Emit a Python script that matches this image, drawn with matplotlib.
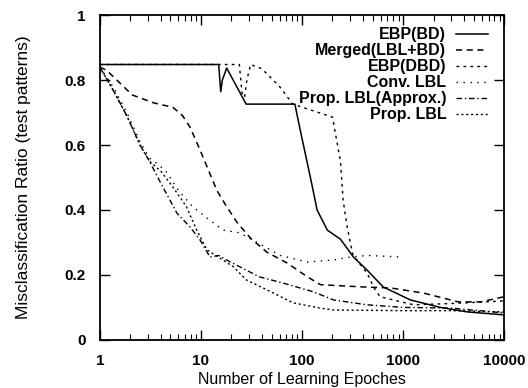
import numpy as np
import matplotlib
matplotlib.use("Agg")
from matplotlib import pyplot as plt

plt.rcParams['font.family'] = ['Liberation Sans', 'DejaVu Sans']

# values (epochs, misclassification ratio)
ebp_bd_x = [1, 15, 15.7, 16.3, 18, 28, 85, 96, 123, 141, 178, 240, 323, 440, 635, 1180, 2340, 4350, 10000]
ebp_bd_y = [0.848, 0.848, 0.764, 0.80, 0.837, 0.726, 0.726, 0.646, 0.49, 0.40, 0.338, 0.31, 0.255, 0.215, 0.163, 0.123, 0.10, 0.086, 0.077]

merged_x = [1, 1.17, 2.1, 3.4, 5.3, 6.6, 7.8, 9.8, 14.4, 18, 23, 31, 45, 71, 112, 152, 400, 750, 1600, 3500, 5850, 10000]
merged_y = [0.84, 0.83, 0.754, 0.73, 0.716, 0.69, 0.655, 0.585, 0.46, 0.41, 0.36, 0.313, 0.27, 0.237, 0.195, 0.17, 0.163, 0.16, 0.144, 0.117, 0.117, 0.133]

ebp_dbd_x = [1, 24, 25.5, 27, 28.5, 31, 40, 60, 81, 200, 240, 255, 280, 300, 320, 440, 510, 590, 1270, 3000, 10000]
ebp_dbd_y = [0.848, 0.848, 0.76, 0.747, 0.80, 0.848, 0.835, 0.78, 0.726, 0.686, 0.55, 0.43, 0.348, 0.30, 0.26, 0.206, 0.163, 0.133, 0.108, 0.112, 0.12]

conv_x = [1, 1.35, 1.85, 2.5, 3.1, 3.6, 4.5, 6, 8.3, 11.5, 16.6, 24, 36, 61, 112, 205, 300, 440, 1000]
conv_y = [0.84, 0.78, 0.70, 0.61, 0.56, 0.545, 0.52, 0.46, 0.41, 0.375, 0.338, 0.33, 0.30, 0.26, 0.24, 0.246, 0.255, 0.26, 0.255]

approx_x = [1, 1.35, 1.85, 2.5, 3.1, 3.9, 5.8, 7.8, 9.8, 12.3, 15, 18, 26, 38, 65, 130, 205, 440, 1000, 2950, 10000]
approx_y = [0.84, 0.77, 0.69, 0.60, 0.55, 0.49, 0.39, 0.348, 0.308, 0.255, 0.26, 0.246, 0.22, 0.194, 0.175, 0.148, 0.123, 0.108, 0.10, 0.098, 0.083]

prop_x = [1, 1.35, 1.85, 2.5, 3.1, 4, 5.3, 7.2, 9.1, 11.5, 14, 21, 28, 45, 82, 150, 205, 1000, 3000, 10000]
prop_y = [0.84, 0.77, 0.69, 0.60, 0.55, 0.52, 0.47, 0.41, 0.338, 0.277, 0.26, 0.225, 0.185, 0.154, 0.114, 0.098, 0.092, 0.09, 0.09, 0.086]

labels = ["EBP(BD)", "Merged(LBL+BD)", "EBP(DBD)", "Conv. LBL", "Prop. LBL(Approx.)", "Prop. LBL"]

fig = plt.figure(figsize=(5.28, 3.88), dpi=100)
ax = fig.add_axes([0.189, 0.124, 0.766, 0.837])

ax.plot(ebp_bd_x, ebp_bd_y, color='black', lw=1.1, ls='-', label=labels[0])
ax.plot(merged_x, merged_y, color='black', lw=1.1, ls=(0, (4, 3)), label=labels[1])
ax.plot(ebp_dbd_x, ebp_dbd_y, color='black', lw=1.0, ls=(0, (2, 3)), label=labels[2])
ax.plot(conv_x, conv_y, color='black', lw=1.0, ls=(0, (1, 4)), label=labels[3])
ax.plot(approx_x, approx_y, color='black', lw=1.0, ls=(0, (4, 2, 1, 2)), label=labels[4])
ax.plot(prop_x, prop_y, color='black', lw=1.0, ls=(0, (1.5, 2)), label=labels[5])

ax.set_xscale('log')
ax.set_xlim(1, 10000)
ax.set_ylim(0, 1)
ax.set_xticks([1, 10, 100, 1000, 10000])
ax.set_xticklabels(["1", "10", "100", "1000", "10000"])
ax.set_yticks([0, 0.2, 0.4, 0.6, 0.8, 1])
ax.set_yticklabels(["0", "0.2", "0.4", "0.6", "0.8", "1"])
ax.tick_params(which='both', direction='in', top=True, right=True, labelsize=11, colors='black')
ax.tick_params(which='major', length=7, width=1)
ax.tick_params(which='minor', length=4, width=0.8)
ax.tick_params(axis='x', pad=10)
ax.tick_params(axis='y', pad=10)
for t in ax.get_xticklabels() + ax.get_yticklabels():
    t.set_fontweight('bold')
for s in ax.spines.values():
    s.set_linewidth(1.3)

ax.set_xlabel("Number of Learning Epoches", fontsize=11.5, labelpad=3)
ax.set_ylabel("Misclassification Ratio (test patterns)", fontsize=12.5, labelpad=24)

leg = ax.legend(loc='upper right', bbox_to_anchor=(0.975, 0.982), frameon=False, markerfirst=False,
                prop={'size': 11.5, 'weight': 'bold'},
                handlelength=2.0, labelspacing=0.06, borderaxespad=0.0, handletextpad=0.6)

fig.savefig("out.png", dpi=100)
